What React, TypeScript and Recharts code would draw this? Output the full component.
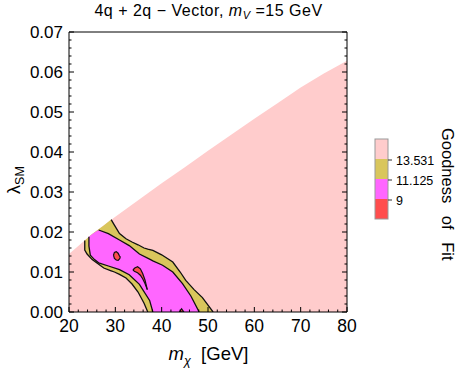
import { Area, ComposedChart, Legend, Line, XAxis, YAxis } from "recharts";

const FONT = '"Liberation Sans", Arial, Helvetica, sans-serif';

// axis ticks
const xMajor = [20, 30, 40, 50, 60, 70, 80];
const yMajor = [0, 0.01, 0.02, 0.03, 0.04, 0.05, 0.06, 0.07];

// upper edge of the allowed (pink) region: [m_chi, lambda]
const domainEdge = [
  [20, 0.0145], [25, 0.0195], [30, 0.0238], [35, 0.028], [40, 0.0322],
  [45, 0.0362], [50, 0.0403], [55, 0.0443], [60, 0.0483], [65, 0.0522],
  [70, 0.0561], [75, 0.0596], [80, 0.0628]
];

// filled level bands: [m_chi, low, high]
const band13 = [
  [23.4, 0.0155, 0.0179], [23.9, 0.0145, 0.0184], [25, 0.0131, 0.0195],
  [27.5, 0.011, 0.0216], [29.1, 0.0103, 0.0231], [29.8, 0.01, 0.0217],
  [30.9, 0.0094, 0.0196], [32.3, 0.0085, 0.0183], [33.6, 0.007, 0.0175],
  [34.9, 0.005, 0.0168], [36.2, 0.0022, 0.016], [37, 0, 0.0157],
  [38.1, 0, 0.0154], [40, 0, 0.0143], [42.4, 0, 0.0125], [44, 0, 0.01],
  [45.2, 0, 0.0079], [47, 0, 0.0056], [48.8, 0, 0.0036], [51.1, 0, 0]
];
const band11 = [
  [24.3, 0.0165, 0.0188], [24.6, 0.0142, 0.0191], [25.5, 0.0131, 0.0199],
  [26.4, 0.0123, 0.0205], [28.5, 0.0115, 0.0196], [30.9, 0.0106, 0.018],
  [33, 0.0093, 0.0166], [35.2, 0.0069, 0.0145], [37.4, 0.0029, 0.0132],
  [38.1, 0, 0.0128], [40.2, 0, 0.0117], [42.4, 0, 0.01], [44.5, 0, 0.0071],
  [46.3, 0, 0.004], [48.1, 0, 0]
];
const island9a = [
  [29.6, 0.0142, 0.0142], [29.8, 0.0134, 0.0149], [30.2, 0.013, 0.0151],
  [30.6, 0.0129, 0.0147], [30.9, 0.0133, 0.014], [31.1, 0.0137, 0.0137]
];
const island9b = [
  [33.8, 0.0105, 0.0105], [34.2, 0.0101, 0.011], [34.8, 0.0098, 0.0113],
  [35.4, 0.0092, 0.0108], [35.9, 0.0083, 0.0096], [36.4, 0.0071, 0.008],
  [36.9, 0.0056, 0.0056]
];
const island9c = [[43.8, 0, 0], [44.3, 0, 0.0008], [44.8, 0, 0]];

// contour lines: [m_chi, lambda]
const line13Low = [
  [23.4, 0.0179], [23.4, 0.0155], [23.9, 0.0145], [25, 0.0131], [27.5, 0.011],
  [29.1, 0.0103], [29.8, 0.01], [30.9, 0.0094], [32.3, 0.0085], [33.6, 0.007],
  [34.9, 0.005], [36.2, 0.0022], [37, 0]
];
const line13High = [
  [29.1, 0.0231], [29.8, 0.0217], [30.9, 0.0196], [32.3, 0.0183], [33.6, 0.0175],
  [34.9, 0.0168], [36.2, 0.016], [37, 0.0157], [38.1, 0.0154], [40, 0.0143],
  [42.4, 0.0125], [44, 0.01], [45.2, 0.0079], [47, 0.0056], [48.8, 0.0036], [51.1, 0]
];
const line11Low = [
  [24.3, 0.0188], [24.3, 0.0165], [24.6, 0.0142], [25.5, 0.0131], [26.4, 0.0123],
  [28.5, 0.0115], [30.9, 0.0106], [33, 0.0093], [35.2, 0.0069], [37.4, 0.0029], [38.1, 0]
];
const line11High = [
  [26.4, 0.0205], [28.5, 0.0196], [30.9, 0.018], [33, 0.0166], [35.2, 0.0145],
  [37.4, 0.0132], [38.1, 0.0128], [40.2, 0.0117], [42.4, 0.01], [44.5, 0.0071],
  [46.3, 0.004], [48.1, 0]
];

// legend
const levelLabels = ["13.531", "11.125", "9"];
const levelColors = ["#FFCCCC", "#D9C65C", "#FF66FF", "#FF4D4D"];

const xTicks = Array.from({ length: 31 }, (_, i) => 20 + 2 * i);
const yTicks = Array.from({ length: 36 }, (_, i) => +(0.002 * i).toFixed(3));
const near = (arr: number[], v: number) => arr.some((m) => Math.abs(m - v) < 1e-6);

const pts = (a: number[][]) => a.map(([x, y]) => ({ x, y }));
const band = (a: number[][]) => a.map(([x, lo, hi]) => ({ x, r: [lo, hi] }));

const LINE = "#111";

function BottomTick(p: any) {
  const v = p.payload.value;
  const major = near(xMajor, v);
  return (
    <g>
      <line x1={p.x} x2={p.x} y1={p.y} y2={p.y - (major ? 5 : 2.5)} stroke="#000" />
      {major && (
        <text x={p.x} y={p.y + 20} textAnchor="middle" fontSize={17.5} fontFamily={FONT} fill="#000">
          {v}
        </text>
      )}
    </g>
  );
}

function TopTick(p: any) {
  const major = near(xMajor, p.payload.value);
  return <line x1={p.x} x2={p.x} y1={p.y} y2={p.y + (major ? 5 : 2.5)} stroke="#000" />;
}

function LeftTick(p: any) {
  const v = p.payload.value;
  const major = near(yMajor, v);
  return (
    <g>
      <line x1={p.x} x2={p.x + (major ? 5 : 2.5)} y1={p.y} y2={p.y} stroke="#000" />
      {major && (
        <text x={p.x - 6} y={p.y + 6} textAnchor="end" fontSize={17} fontFamily={FONT} fill="#000">
          {v.toFixed(2)}
        </text>
      )}
    </g>
  );
}

function RightTick(p: any) {
  const major = near(yMajor, p.payload.value);
  return <line x1={p.x} x2={p.x - (major ? 5 : 2.5)} y1={p.y} y2={p.y} stroke="#000" />;
}

function ColorBar() {
  return (
    <svg width={101} height={150} style={{ display: "block", fontFamily: FONT }}>
      {levelColors.map((c, i) => (
        <rect key={c} x={15} y={19 + i * 20} width={13} height={20} fill={c} />
      ))}
      <rect x={15} y={19} width={13} height={80} fill="none" stroke="#999" strokeWidth={1} />
      {levelLabels.map((t, i) => (
        <g key={t}>
          <line x1={28} x2={32} y1={40 + i * 20} y2={40 + i * 20} stroke="#333" />
          <text x={36} y={44.5 + i * 20} fontSize={12.5} fill="#000">
            {t}
          </text>
        </g>
      ))}
      <text
        transform="translate(82,8) rotate(90)"
        fontSize={16.5}
        fill="#000"
        style={{ wordSpacing: 8 }}
      >
        Goodness of Fit
      </text>
    </svg>
  );
}

export default function App() {
  return (
    <div
      style={{
        position: "absolute",
        left: 0,
        top: 0,
        width: 461,
        height: 371,
        background: "#fff",
        fontFamily: FONT,
        color: "#000"
      }}
    >
      <ComposedChart width={461} height={371} data={pts(domainEdge)} margin={{ top: 0, right: 0, bottom: 0, left: 0 }}>
        <XAxis
          dataKey="x"
          type="number"
          domain={[20, 80]}
          ticks={xTicks}
          interval={0}
          allowDataOverflow
          height={59}
          tickSize={0}
          tickMargin={0}
          tickLine={false}
          axisLine={{ stroke: "#000" }}
          tick={(p: any) => <BottomTick {...p} />}
        />
        <XAxis
          xAxisId="top"
          orientation="top"
          type="number"
          domain={[20, 80]}
          ticks={xTicks}
          interval={0}
          allowDataOverflow
          height={32}
          tickSize={0}
          tickMargin={0}
          tickLine={false}
          axisLine={{ stroke: "#000" }}
          tick={(p: any) => <TopTick {...p} />}
        />
        <YAxis
          type="number"
          domain={[0, 0.07]}
          ticks={yTicks}
          interval={0}
          allowDataOverflow
          width={69}
          tickSize={0}
          tickMargin={0}
          tickLine={false}
          axisLine={{ stroke: "#000" }}
          tick={(p: any) => <LeftTick {...p} />}
        />
        <YAxis
          yAxisId="right"
          orientation="right"
          type="number"
          domain={[0, 0.07]}
          ticks={yTicks}
          interval={0}
          allowDataOverflow
          width={114}
          tickSize={0}
          tickMargin={0}
          tickLine={false}
          axisLine={{ stroke: "#000" }}
          tick={(p: any) => <RightTick {...p} />}
        />
        <Area dataKey="y" type="linear" fill={levelColors[0]} fillOpacity={1} stroke="none" isAnimationActive={false} />
        <Area data={band(band13)} dataKey="r" type="linear" fill={levelColors[1]} fillOpacity={1} stroke="none" isAnimationActive={false} />
        <Area data={band(band11)} dataKey="r" type="linear" fill={levelColors[2]} fillOpacity={1} stroke="none" isAnimationActive={false} />
        {[island9a, island9b, island9c].map((isl, i) => (
          <Area
            key={i}
            data={band(isl)}
            dataKey="r"
            type="linear"
            fill={levelColors[3]}
            fillOpacity={1}
            stroke={LINE}
            strokeWidth={1.2}
            isAnimationActive={false}
          />
        ))}
        {[line13Low, line13High, line11Low, line11High].map((l, i) => (
          <Line
            key={i}
            data={pts(l)}
            dataKey="y"
            type="linear"
            stroke={LINE}
            strokeWidth={1.3}
            dot={false}
            activeDot={false}
            isAnimationActive={false}
          />
        ))}
        <Legend
          layout="vertical"
          align="center"
          verticalAlign="middle"
          wrapperStyle={{ left: 360, top: 120, width: 101, height: 150 }}
          content={() => <ColorBar />}
        />
      </ComposedChart>

      <div
        style={{
          position: "absolute",
          left: 0,
          top: 2,
          width: 417,
          textAlign: "center",
          fontSize: 16,
          letterSpacing: 0.5,
          lineHeight: "18px",
          whiteSpace: "pre"
        }}
      >
        {"4q + 2q \u2212 Vector, "}
        <i>m</i>
        <i style={{ fontSize: 11, position: "relative", top: 3 }}>V</i>
        {" =15 GeV"}
      </div>

      <div
        style={{
          position: "absolute",
          left: 0,
          top: 344,
          width: 417,
          textAlign: "center",
          fontSize: 18.5,
          lineHeight: "20px",
          whiteSpace: "pre"
        }}
      >
        <i>m</i>
        <i style={{ fontSize: 12.5, position: "relative", top: 5 }}>{"\u03C7"}</i>
        {"  [GeV]"}
      </div>

      <div
        style={{
          position: "absolute",
          left: -21,
          top: 168,
          width: 70,
          height: 24,
          lineHeight: "24px",
          textAlign: "center",
          fontSize: 18,
          transform: "rotate(-90deg)",
          whiteSpace: "pre"
        }}
      >
        {"\u03BB"}
        <span style={{ fontSize: 12.5, position: "relative", top: 4 }}>SM</span>
      </div>
    </div>
  );
}
